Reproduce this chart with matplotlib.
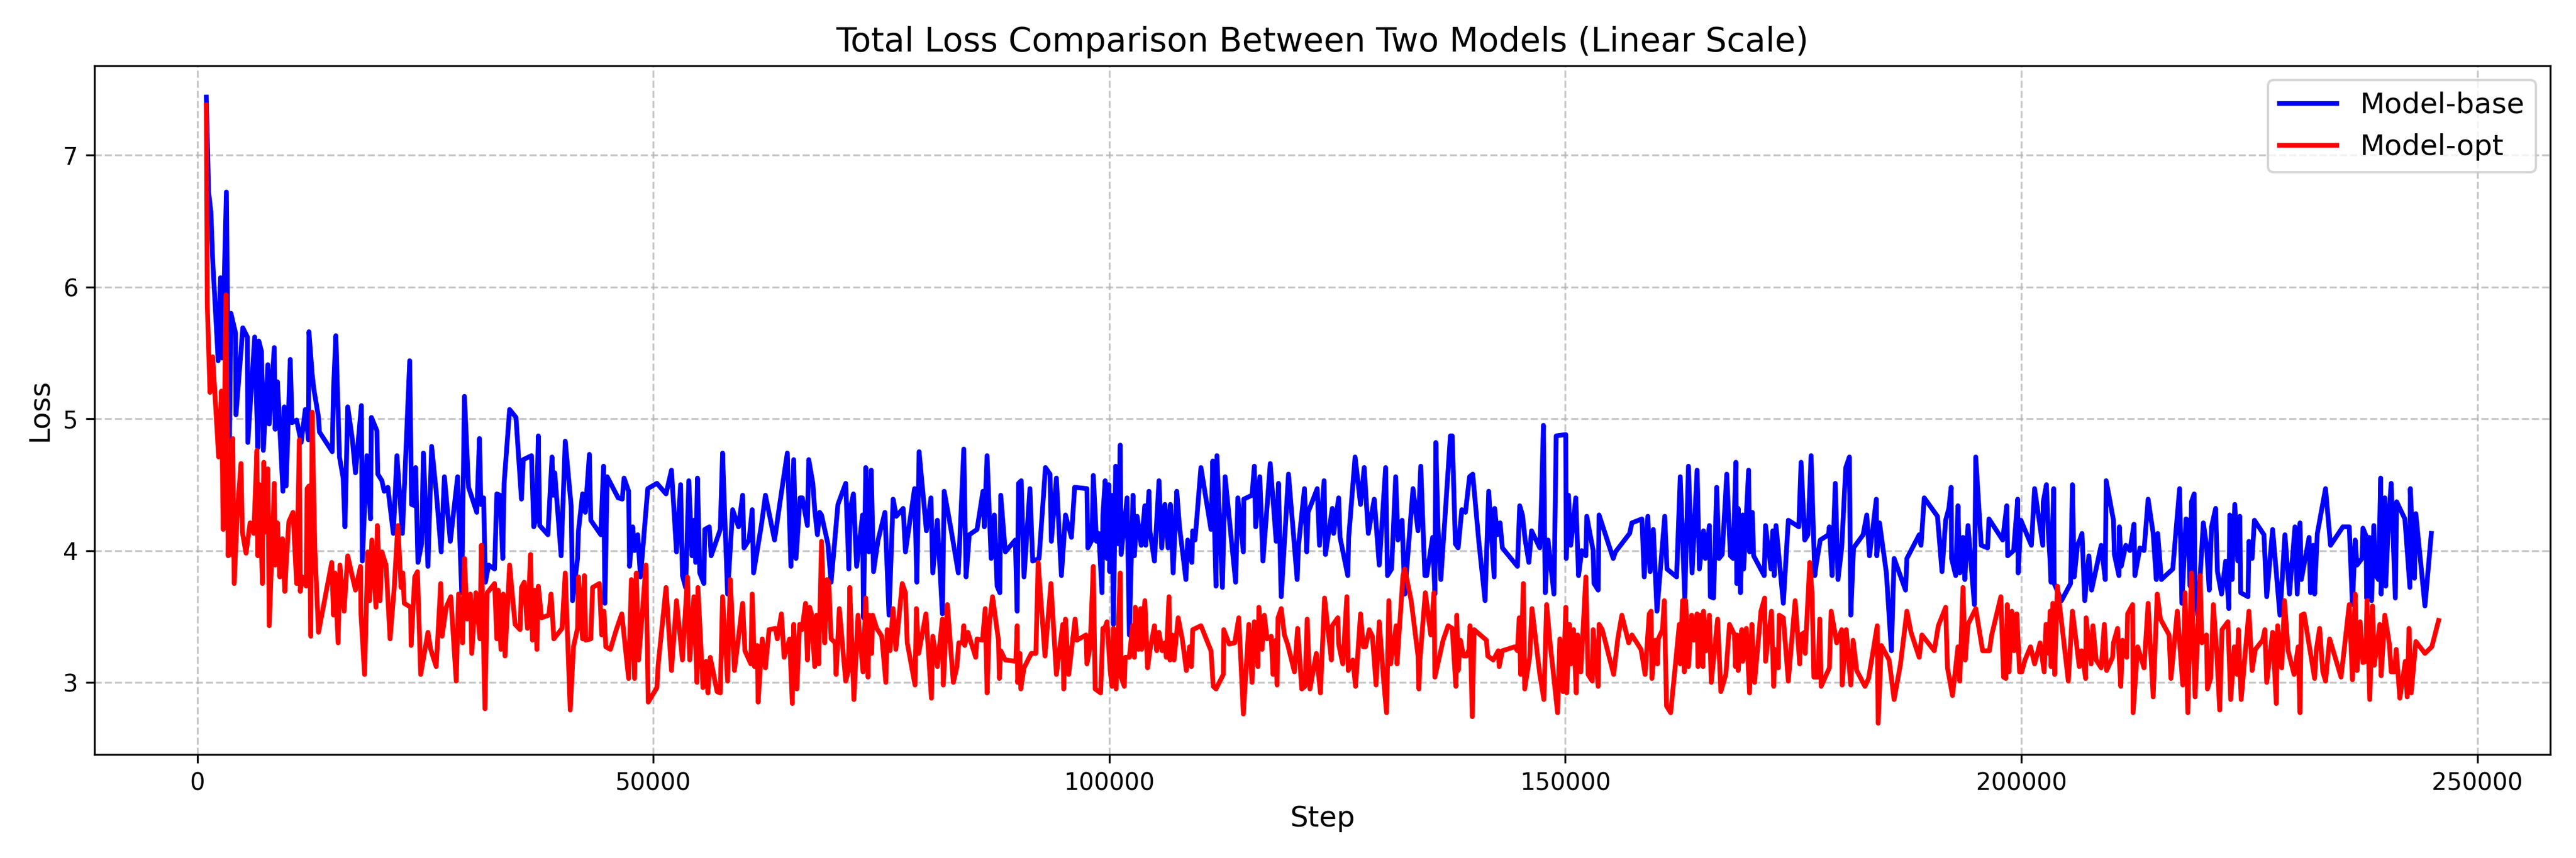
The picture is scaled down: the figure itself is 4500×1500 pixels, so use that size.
import matplotlib
matplotlib.use("Agg")
import matplotlib.pyplot as plt

# (step, loss) pairs
base_points = [
    (1000, 7.44), (1250, 6.72), (1500, 6.57), (1700, 6.20), (2300, 5.44), (2550, 6.07), (2750, 5.46),
    (3200, 6.72), (3500, 4.64), (3700, 5.80), (4200, 5.65), (4250, 5.03), (5000, 5.69), (5500, 5.62),
    (5550, 4.82), (6300, 5.62), (6650, 4.78), (6750, 5.59), (7050, 5.51), (7250, 4.76), (7750, 5.41),
    (7900, 4.96), (8450, 5.54), (8550, 4.92), (8800, 5.28), (9400, 4.45), (9550, 5.09), (9750, 4.49),
    (10200, 5.45), (10400, 4.97), (10900, 4.99), (11400, 4.82), (11850, 5.07), (12200, 4.84), (12250, 5.66),
    (12600, 5.34), (12800, 5.22), (13300, 5.01), (13400, 4.90), (14800, 4.75), (14950, 5.23), (15200, 5.63),
    (15600, 4.71), (16000, 4.55), (16200, 4.18), (16500, 5.09), (17000, 4.85), (17350, 4.59), (18000, 5.10),
    (18100, 3.92), (18600, 4.72), (19000, 4.24), (19100, 5.01), (19700, 4.91), (19800, 4.58), (20250, 4.53),
    (20500, 4.45), (20900, 4.48), (21500, 4.13), (21900, 4.72), (22500, 4.13), (23300, 5.44), (23500, 4.35),
    (23850, 4.34), (23950, 4.63), (24200, 3.91), (24600, 4.05), (24800, 4.74), (25300, 3.88), (25700, 4.79),
    (26200, 4.45), (26750, 3.99), (27100, 4.56), (27750, 4.07), (28550, 4.56), (29000, 3.68), (29300, 5.17),
    (29750, 4.48), (30650, 4.29), (30950, 4.85), (31100, 4.35), (31400, 4.40), (31600, 3.76), (31950, 3.89),
    (32600, 3.86), (32850, 4.43), (33200, 4.42), (33500, 3.94), (33650, 4.51), (34250, 5.07), (34950, 5.01),
    (35550, 4.39), (35750, 4.69), (36650, 4.72), (36900, 4.18), (37200, 4.26), (37400, 4.87), (37550, 4.19),
    (38450, 4.12), (38900, 4.71), (39050, 4.42), (39200, 4.59), (39900, 3.96), (40350, 4.83), (41000, 4.34),
    (41150, 3.62), (41700, 3.94), (41800, 4.15), (42250, 4.43), (42550, 4.29), (43000, 4.73), (43150, 4.23),
    (44250, 4.12), (44550, 4.64), (44700, 3.60), (44950, 4.56), (46150, 4.40), (46600, 4.39), (46800, 4.55),
    (47300, 4.45), (47400, 3.88), (47750, 4.18), (47950, 4.00), (48300, 4.12), (48600, 3.80), (49400, 4.47),
    (50400, 4.51), (51400, 4.43), (52000, 4.61), (52550, 3.99), (53000, 4.50), (53200, 3.81), (53550, 3.72),
    (53900, 4.53), (54250, 3.96), (54450, 4.23), (54650, 3.91), (54850, 4.55), (55100, 3.83), (55550, 3.75),
    (55650, 4.16), (56150, 4.18), (56350, 3.96), (57350, 4.16), (57600, 4.74), (57800, 4.34), (58150, 3.67),
    (58700, 4.31), (59350, 4.18), (59800, 4.42), (59950, 4.02), (60500, 4.08), (60850, 4.31), (61000, 3.83),
    (61850, 4.19), (62300, 4.42), (63300, 4.08), (64200, 4.51), (64700, 4.74), (65100, 3.88), (65400, 4.69),
    (65650, 3.94), (66100, 4.40), (66350, 4.40), (66900, 4.19), (67050, 4.69), (67500, 4.51), (67700, 4.31),
    (68000, 4.12), (68250, 4.29), (68450, 4.27), (69150, 4.05), (69500, 3.76), (70250, 4.35), (71100, 4.51),
    (71450, 3.86), (71600, 4.32), (71950, 4.43), (72300, 3.88), (72950, 4.27), (73050, 3.49), (73300, 4.63),
    (73650, 3.99), (73900, 4.61), (74150, 3.84), (74650, 4.08), (75400, 4.29), (75850, 3.51), (76300, 4.39),
    (76650, 4.26), (77400, 4.32), (77650, 3.99), (78650, 4.47), (78900, 3.76), (79150, 4.75), (79950, 4.15),
    (80450, 4.40), (80650, 3.83), (81150, 4.23), (81700, 3.52), (81900, 4.45), (82650, 4.16), (83450, 3.83),
    (84050, 4.77), (84300, 3.80), (84650, 4.12), (85500, 4.16), (86150, 4.45), (86300, 4.18), (86600, 4.72),
    (87050, 3.94), (87400, 4.27), (87700, 3.73), (88000, 3.68), (88100, 4.42), (88600, 3.99), (89700, 4.08),
    (89900, 3.54), (90050, 4.51), (90350, 4.53), (90650, 3.80), (91300, 4.47), (91600, 3.92), (92300, 3.94),
    (93000, 4.63), (93500, 4.58), (93650, 4.07), (94200, 4.55), (94750, 3.81), (95200, 4.27), (95850, 4.10),
    (96200, 4.48), (97550, 4.47), (97650, 4.02), (98100, 4.08), (98250, 4.57), (98600, 4.07), (98850, 4.13),
    (99200, 3.68), (99300, 4.27), (99550, 4.53), (99750, 3.94), (99950, 4.50), (100050, 3.84), (100300, 4.42),
    (100450, 3.44), (100700, 4.64), (101000, 4.05), (101200, 4.80), (101300, 3.97), (101950, 4.40), (102200, 3.36),
    (102600, 4.42), (102750, 3.96), (103050, 4.26), (103500, 4.04), (103900, 4.34), (104000, 4.04), (104350, 4.45),
    (104450, 4.15), (104950, 3.92), (105450, 4.53), (105750, 4.02), (106100, 4.35), (106450, 4.02), (106700, 4.35),
    (107000, 3.83), (107400, 4.45), (107700, 4.18), (108400, 3.78), (108600, 4.08), (109050, 3.91), (109150, 4.15),
    (109400, 4.08), (110050, 4.63), (111150, 4.16), (111350, 4.68), (111700, 3.73), (111800, 4.72), (112400, 3.72),
    (112700, 4.56), (113850, 3.76), (114100, 4.40), (114700, 3.99), (114750, 4.39), (115650, 4.42), (115900, 4.64),
    (116050, 4.18), (116500, 4.56), (116850, 3.92), (117650, 4.66), (118300, 4.07), (118550, 4.51), (118850, 3.65),
    (119650, 4.58), (120600, 3.78), (120750, 4.04), (121400, 4.47), (121650, 3.99), (121800, 4.29), (122800, 4.47),
    (123050, 4.04), (123550, 4.53), (123700, 3.97), (124450, 4.32), (124600, 4.13), (125150, 4.40), (125300, 4.10),
    (126150, 3.81), (126250, 4.10), (126950, 4.71), (127550, 4.35), (127950, 4.63), (128400, 4.13), (129050, 4.39),
    (129600, 3.89), (130300, 4.63), (130500, 3.81), (130950, 3.86), (131400, 4.56), (131650, 4.08), (132100, 4.23),
    (132400, 3.67), (133300, 4.47), (133850, 4.15), (134150, 4.64), (134600, 3.81), (134800, 3.81), (135450, 4.10),
    (135700, 3.67), (135800, 4.82), (136050, 4.16), (136350, 3.78), (137400, 4.87), (137600, 4.87), (137950, 4.05),
    (138250, 4.02), (138650, 4.31), (139050, 4.29), (139500, 4.56), (139850, 4.58), (140500, 4.08), (141200, 3.62),
    (141600, 4.45), (142200, 3.80), (142250, 4.32), (142550, 4.12), (142850, 4.21), (143100, 4.02), (144750, 3.88),
    (145000, 4.34), (145300, 4.27), (145600, 4.08), (146000, 3.91), (146300, 4.15), (147200, 4.02), (147350, 4.29),
    (147600, 4.95), (147800, 3.68), (148100, 4.08), (148750, 3.67), (149000, 4.87), (150050, 4.88), (150100, 3.94),
    (150350, 4.42), (150600, 4.04), (151150, 4.40), (151450, 3.81), (151800, 4.00), (152250, 3.96), (152350, 4.26),
    (153050, 4.00), (153150, 3.75), (153600, 3.70), (153700, 4.27), (155250, 3.94), (155500, 3.99), (157050, 4.13),
    (157300, 4.21), (158400, 4.24), (158650, 3.80), (159050, 4.26), (159300, 3.84), (159650, 4.16), (160050, 3.54),
    (160900, 4.26), (161150, 3.86), (162200, 3.80), (162600, 4.56), (163100, 3.64), (163500, 4.64), (163900, 3.83),
    (164450, 4.61), (164700, 3.86), (165150, 4.15), (165350, 3.94), (165800, 4.19), (165900, 3.65), (166250, 3.64),
    (166600, 4.48), (166850, 3.94), (167200, 3.97), (167700, 4.58), (168100, 3.96), (168400, 3.94), (168700, 4.67),
    (168800, 3.75), (168950, 4.32), (169200, 3.68), (169450, 4.27), (169550, 3.86), (170100, 4.61), (170200, 3.99),
    (170500, 4.29), (170650, 3.96), (171800, 3.81), (171950, 4.19), (172550, 3.86), (172750, 4.15), (172900, 3.81),
    (173100, 4.19), (173900, 3.60), (174450, 4.23), (175600, 4.18), (175850, 4.67), (176250, 4.08), (176600, 4.12),
    (176950, 4.72), (177350, 3.81), (177500, 3.89), (177950, 4.08), (178850, 4.12), (178950, 4.18), (179250, 3.81),
    (179600, 4.51), (179900, 3.78), (180300, 4.02), (180750, 4.63), (181150, 4.71), (181300, 3.51), (181600, 4.02),
    (182650, 4.12), (183050, 4.27), (183350, 3.96), (184100, 4.39), (184150, 3.96), (184450, 4.21), (185200, 3.83),
    (185750, 3.24), (186050, 3.94), (187300, 3.70), (187450, 3.94), (188800, 4.12), (189000, 4.04), (189350, 4.40),
    (190800, 4.26), (191300, 3.84), (191700, 4.23), (192050, 4.32), (192300, 4.48), (192350, 3.94), (192800, 3.81),
    (193050, 4.34), (193250, 3.83), (193600, 4.10), (193800, 3.78), (194150, 4.19), (194850, 3.59), (195000, 4.71),
    (195600, 4.04), (196300, 4.02), (196450, 4.24), (197950, 4.08), (198400, 4.34), (198500, 3.96), (199150, 4.00),
    (199600, 4.39), (199650, 3.83), (199950, 4.23), (201100, 4.04), (201450, 4.47), (202350, 4.04), (202400, 4.37),
    (202750, 4.50), (202950, 4.15), (203150, 3.92), (203250, 3.76), (203550, 4.47), (203600, 3.75), (204400, 3.62),
    (205400, 3.75), (205600, 4.50), (205800, 3.80), (206150, 4.04), (206400, 4.08), (206650, 4.13), (206950, 3.62),
    (207400, 3.96), (207700, 3.70), (208750, 4.04), (209200, 3.78), (209300, 4.53), (210100, 4.23), (210200, 3.97),
    (210700, 3.81), (210750, 4.18), (210950, 3.88), (211450, 4.04), (211900, 4.00), (212350, 4.20), (212450, 3.81),
    (213000, 4.02), (213450, 4.00), (213900, 4.39), (214450, 4.13), (214800, 3.78), (214950, 4.13), (215350, 3.78),
    (216600, 3.86), (217350, 4.47), (217600, 3.60), (218050, 4.24), (218250, 4.23), (218500, 3.73), (218650, 4.37),
    (218950, 4.43), (219050, 3.66), (219350, 3.51), (219950, 4.21), (220300, 4.04), (220600, 3.70), (220850, 4.18),
    (221300, 4.32), (221500, 3.84), (221950, 3.67), (222400, 3.92), (222750, 3.56), (222850, 4.27), (223100, 3.78),
    (223400, 4.35), (223750, 3.92), (223950, 4.26), (224050, 3.68), (224850, 3.65), (224950, 4.07), (225300, 3.94),
    (225550, 4.23), (226600, 4.12), (226900, 3.65), (227550, 4.16), (228350, 3.51), (228900, 4.12), (229400, 3.67),
    (230000, 4.18), (230250, 3.67), (230550, 4.21), (230700, 3.78), (231550, 4.10), (231700, 3.68), (232000, 4.04),
    (232150, 3.67), (232450, 4.13), (233350, 4.47), (233900, 4.04), (235250, 4.18), (235950, 4.18), (236300, 3.59),
    (236600, 4.08), (236800, 3.89), (237350, 3.94), (237450, 4.17), (237800, 4.11), (237850, 3.64), (238150, 4.10),
    (238400, 3.62), (238650, 4.19), (238800, 3.82), (239150, 3.78), (239400, 4.55), (239450, 3.67), (239850, 4.40),
    (239950, 3.73), (240250, 4.22), (240550, 4.51), (241000, 3.64), (241150, 4.37), (242050, 4.24), (242600, 3.72),
    (242650, 4.47), (243100, 3.79), (243250, 4.28), (244250, 3.58), (244950, 4.13),
]

opt_points = [
    (1000, 7.38), (1100, 5.87), (1400, 5.20), (1700, 5.47), (2350, 4.71), (2650, 5.21), (2850, 4.16),
    (3150, 5.94), (3400, 3.96), (3600, 4.63), (3700, 3.97), (3900, 4.85), (4050, 3.75), (4400, 4.29),
    (4800, 4.66), (4950, 4.14), (5350, 3.98), (5800, 4.21), (6050, 4.20), (6200, 4.13), (6550, 4.76),
    (6650, 3.96), (6850, 4.50), (7150, 3.75), (7300, 4.67), (7450, 4.14), (7750, 4.62), (7900, 3.43),
    (8450, 4.51), (8550, 3.89), (8800, 4.21), (9050, 3.80), (9350, 4.09), (9600, 3.69), (9750, 3.89),
    (10050, 4.22), (10500, 4.29), (10900, 3.75), (11200, 4.84), (11300, 3.69), (11550, 3.80), (11950, 3.73),
    (12050, 4.47), (12250, 4.49), (12450, 3.35), (12600, 5.05), (12900, 4.01), (13300, 3.38), (14750, 3.91),
    (14950, 3.51), (15100, 3.83), (15450, 3.30), (15650, 3.89), (16100, 3.54), (16500, 3.96), (17350, 3.70),
    (17900, 3.88), (17950, 3.52), (18350, 3.06), (18700, 3.99), (18900, 3.62), (19150, 4.08), (19600, 3.57),
    (19750, 4.19), (20050, 3.62), (20250, 3.99), (20700, 3.89), (21150, 3.33), (21600, 3.72), (22000, 4.19),
    (22350, 3.72), (22550, 3.83), (22700, 3.60), (23400, 3.57), (23450, 3.28), (23850, 3.80), (24150, 3.84),
    (24500, 3.06), (25300, 3.38), (25600, 3.25), (26200, 3.12), (26700, 3.75), (26850, 3.35), (27300, 3.57),
    (27800, 3.65), (28400, 3.01), (28650, 3.67), (29100, 3.30), (29300, 3.94), (29600, 3.48), (29950, 3.67),
    (30100, 3.22), (30550, 3.68), (31000, 3.33), (31150, 4.04), (31550, 2.80), (31800, 3.68), (32600, 3.75),
    (32850, 3.33), (33000, 3.70), (33300, 3.25), (33550, 3.67), (33750, 3.20), (34250, 3.89), (34850, 3.44),
    (35400, 3.40), (35550, 3.72), (35850, 3.76), (36200, 3.41), (36550, 3.97), (36750, 3.32), (37000, 3.70),
    (37250, 3.25), (37400, 3.73), (37750, 3.49), (38550, 3.51), (38800, 3.67), (39100, 3.33), (40000, 3.41),
    (40350, 3.83), (40900, 2.79), (41250, 3.27), (41700, 3.41), (41800, 3.80), (42250, 3.33), (42450, 3.81),
    (42600, 3.32), (43150, 3.33), (43350, 3.72), (44100, 3.75), (44350, 3.36), (44600, 3.54), (44800, 3.27),
    (45300, 3.25), (45950, 3.40), (46550, 3.52), (47300, 3.03), (47600, 3.78), (47950, 3.03), (48150, 3.83),
    (48400, 3.17), (49200, 3.89), (49450, 2.85), (50400, 2.96), (50550, 3.14), (51400, 3.72), (52000, 3.09),
    (52550, 3.62), (53200, 3.17), (53750, 3.80), (54000, 3.17), (54450, 3.65), (54800, 3.00), (54900, 3.72),
    (55450, 2.96), (55800, 3.16), (56000, 2.92), (56250, 3.19), (57000, 2.93), (57350, 2.92), (57600, 3.65),
    (58150, 3.01), (58450, 3.78), (58900, 3.09), (59800, 3.60), (60050, 3.24), (60700, 3.14), (60850, 3.67),
    (61100, 3.12), (61400, 3.28), (61500, 2.85), (61950, 3.33), (62300, 3.11), (62700, 3.40), (63400, 3.41),
    (63600, 3.33), (64050, 3.52), (64350, 3.19), (64950, 3.33), (65250, 2.84), (65400, 3.44), (65750, 2.95),
    (66050, 3.44), (66300, 3.40), (66700, 3.60), (66900, 3.17), (67150, 3.57), (67350, 3.52), (67700, 3.12),
    (67900, 3.51), (68150, 3.14), (68450, 4.07), (68800, 3.30), (69050, 3.78), (69250, 3.76), (69500, 3.33),
    (69950, 3.30), (70050, 3.06), (70400, 3.56), (71100, 3.01), (71400, 3.09), (71550, 3.72), (72000, 2.87),
    (72450, 3.51), (73000, 3.08), (73300, 3.64), (73550, 3.04), (73700, 3.51), (73950, 3.22), (74050, 3.51),
    (74500, 3.41), (75050, 3.35), (75500, 3.00), (75650, 3.40), (75950, 3.24), (76300, 3.56), (76600, 3.25),
    (77300, 3.75), (77650, 3.68), (77850, 3.30), (78700, 2.98), (78850, 3.56), (79100, 3.22), (79900, 3.52),
    (80500, 2.88), (80650, 3.35), (81150, 3.12), (81700, 3.48), (81800, 2.98), (82250, 3.59), (82900, 3.00),
    (83300, 3.12), (83500, 3.30), (83900, 3.30), (84050, 3.43), (84150, 3.28), (84500, 3.38), (85350, 3.19),
    (85500, 3.33), (86100, 3.32), (86400, 3.56), (86600, 2.92), (86850, 3.44), (87200, 3.65), (87850, 3.32),
    (87950, 3.03), (88100, 3.24), (88600, 3.17), (89750, 3.16), (89900, 3.43), (89950, 3.00), (90200, 3.22),
    (90300, 2.95), (90650, 3.11), (91450, 3.22), (91950, 3.22), (92200, 3.91), (92950, 3.20), (93600, 3.75),
    (94200, 3.06), (94900, 3.44), (95000, 2.95), (95200, 3.48), (95550, 3.06), (96250, 3.48), (96450, 3.32),
    (97450, 3.36), (97550, 3.14), (97900, 3.27), (98250, 3.88), (98450, 2.95), (99050, 2.92), (99300, 3.41),
    (99450, 3.40), (99750, 3.46), (100100, 3.09), (100300, 2.97), (100450, 3.41), (100750, 2.95), (101200, 3.83),
    (101300, 3.04), (101650, 2.97), (101750, 3.19), (102200, 3.19), (102550, 3.43), (102750, 3.19), (102850, 3.57),
    (103200, 3.25), (103450, 3.56), (103550, 3.25), (103900, 3.62), (104200, 3.11), (104450, 3.24), (104950, 3.43),
    (105200, 3.24), (105450, 3.38), (105800, 3.24), (106100, 3.30), (106250, 3.19), (106550, 3.65), (106650, 3.17),
    (106900, 3.36), (107100, 3.17), (107550, 3.49), (108000, 3.33), (108450, 3.09), (108800, 3.27), (109000, 3.12),
    (109150, 3.40), (110050, 3.43), (111150, 3.24), (111400, 2.97), (111700, 2.95), (112500, 3.06), (112550, 3.40),
    (113150, 3.29), (113750, 3.30), (114200, 3.49), (114700, 2.76), (115300, 3.44), (115650, 3.00), (115900, 3.46),
    (116300, 3.12), (116400, 3.57), (116750, 3.25), (117000, 3.51), (117300, 3.33), (117750, 3.35), (117950, 3.06),
    (118250, 3.32), (118400, 2.98), (118500, 3.49), (118850, 3.56), (119200, 3.36), (119550, 3.29), (120300, 3.08),
    (120650, 3.41), (121100, 2.95), (121450, 2.97), (121700, 3.48), (122000, 2.95), (122700, 3.22), (123150, 2.92),
    (123600, 3.64), (124350, 3.17), (124450, 3.43), (125050, 3.49), (125150, 3.29), (125600, 3.14), (126050, 3.65),
    (126200, 3.09), (126700, 3.17), (127000, 2.97), (127550, 3.52), (127850, 3.27), (128100, 3.27), (128500, 3.40),
    (128850, 3.35), (129250, 2.98), (129600, 3.46), (130050, 3.04), (130400, 2.77), (130650, 3.62), (130850, 3.14),
    (131450, 3.43), (131550, 3.14), (132200, 3.81), (132400, 3.86), (133100, 3.62), (133850, 3.20), (133950, 2.95),
    (134050, 3.16), (134650, 3.68), (135250, 3.36), (135600, 3.68), (135700, 3.04), (136600, 3.32), (137150, 3.43),
    (137600, 3.41), (138000, 2.97), (138100, 3.51), (138250, 3.09), (138500, 3.32), (138850, 3.20), (139150, 3.20),
    (139450, 3.25), (139550, 3.43), (139800, 2.74), (140000, 3.40), (141350, 3.32), (141500, 3.20), (142100, 3.17),
    (142650, 3.24), (142750, 3.12), (143100, 3.24), (144450, 3.27), (144750, 3.24), (144950, 3.49), (145100, 3.06),
    (145400, 3.75), (145550, 2.95), (146100, 3.20), (146350, 3.56), (147200, 3.06), (147650, 2.87), (147950, 3.59),
    (148300, 3.32), (149150, 2.77), (149400, 3.33), (149750, 2.93), (150050, 3.57), (150150, 2.92), (150450, 3.44),
    (150600, 3.14), (150900, 3.40), (151200, 2.92), (151350, 3.36), (151700, 3.08), (152250, 3.80), (152500, 3.06),
    (152950, 3.01), (153050, 3.40), (153600, 2.97), (153700, 3.44), (154050, 3.40), (155300, 3.06), (155750, 3.33),
    (156200, 3.51), (156950, 3.30), (157300, 3.36), (158300, 3.25), (158750, 3.06), (159200, 3.52), (159400, 3.54),
    (159500, 3.03), (159850, 3.32), (160100, 3.14), (160200, 3.33), (160650, 3.40), (160850, 3.62), (161100, 2.82),
    (161550, 2.77), (162100, 3.16), (162500, 3.44), (162600, 3.14), (162850, 3.62), (163050, 3.08), (163200, 3.62),
    (163500, 3.12), (163850, 3.51), (164100, 3.32), (164450, 3.52), (164550, 3.12), (164800, 3.51), (165100, 3.12),
    (165150, 3.54), (165450, 3.24), (165800, 3.51), (166000, 3.00), (166700, 3.48), (167050, 2.93), (167600, 3.06),
    (168000, 3.44), (168550, 3.36), (168650, 3.12), (168850, 3.36), (168950, 3.09), (169350, 3.40), (169450, 3.16),
    (169850, 3.41), (170200, 2.92), (170450, 3.44), (170750, 3.00), (171450, 3.54), (171850, 3.64), (171950, 3.16),
    (172600, 3.54), (172850, 2.97), (173000, 3.25), (173350, 3.11), (173450, 3.51), (173900, 3.49), (174450, 3.01),
    (175200, 3.62), (175700, 3.14), (175800, 3.36), (176250, 3.38), (176300, 3.22), (176800, 3.91), (177050, 3.68),
    (177250, 3.04), (177700, 3.04), (177900, 3.48), (178050, 2.97), (178950, 3.11), (179150, 3.54), (179750, 3.30),
    (180300, 3.40), (180350, 2.98), (180800, 3.40), (181300, 2.98), (181550, 3.32), (181950, 3.09), (182850, 2.97),
    (183250, 3.03), (184200, 3.43), (184300, 2.69), (184650, 3.28), (185500, 3.17), (186050, 2.87), (186750, 3.14),
    (187450, 3.54), (187900, 3.38), (188800, 3.19), (189100, 3.36), (190450, 3.24), (190900, 3.43), (191700, 3.57),
    (191900, 3.11), (192450, 2.90), (193050, 3.27), (193250, 3.01), (193600, 3.72), (193850, 3.17), (194150, 3.44),
    (195000, 3.56), (195750, 3.24), (196500, 3.24), (196750, 3.36), (197750, 3.65), (198050, 3.04), (198300, 3.03),
    (198450, 3.59), (198650, 3.08), (198950, 3.54), (199200, 3.24), (199500, 3.52), (199800, 3.08), (200050, 3.08),
    (200400, 3.17), (201000, 3.27), (201450, 3.14), (202050, 3.30), (202500, 3.08), (202700, 3.44), (203000, 3.22),
    (203150, 3.54), (203250, 3.12), (203450, 3.60), (203650, 3.06), (203950, 3.73), (205150, 3.01), (205600, 3.54),
    (206350, 3.12), (206600, 3.24), (207050, 3.03), (207100, 3.49), (207650, 3.14), (207850, 3.43), (208200, 3.17),
    (208750, 3.11), (209100, 3.44), (209350, 3.09), (210000, 3.19), (210100, 3.30), (210550, 3.41), (210900, 2.97),
    (211100, 3.32), (211550, 3.19), (211650, 3.52), (212200, 3.59), (212250, 2.77), (212750, 3.27), (213450, 3.11),
    (213900, 3.60), (214450, 2.89), (214900, 3.67), (215250, 3.48), (216200, 3.36), (216400, 3.03), (217100, 3.54),
    (217700, 2.98), (217950, 3.68), (218250, 2.77), (218650, 3.83), (219050, 2.89), (219600, 3.81), (219800, 3.30),
    (220300, 3.36), (220400, 2.95), (220750, 3.03), (221050, 3.59), (221400, 3.25), (221750, 2.79), (222000, 3.40),
    (222650, 3.46), (222950, 2.87), (223350, 3.27), (223650, 3.06), (223800, 3.40), (224100, 2.87), (224950, 3.54),
    (225300, 3.09), (225650, 3.25), (226450, 3.32), (226700, 3.40), (226900, 3.00), (227550, 3.38), (227950, 2.84),
    (228100, 3.43), (228550, 3.11), (228850, 3.62), (229250, 3.24), (229900, 3.06), (230350, 3.27), (230550, 2.77),
    (230700, 3.51), (231000, 3.52), (231700, 3.22), (232150, 3.03), (232350, 3.25), (232700, 3.41), (233050, 3.08),
    (233350, 3.01), (233800, 3.33), (235050, 3.04), (235950, 3.59), (236300, 3.02), (236600, 3.67), (236800, 3.09),
    (237150, 3.46), (237450, 3.15), (237750, 3.16), (237900, 3.62), (238200, 2.87), (238500, 3.58), (238700, 3.13),
    (239300, 3.44), (239450, 3.05), (239850, 3.51), (240350, 3.29), (240550, 3.08), (240900, 3.08), (241100, 3.25),
    (241500, 2.88), (242100, 3.16), (242300, 2.89), (242500, 3.41), (242750, 2.92), (243250, 3.31), (244250, 3.22),
    (245000, 3.27), (245750, 3.47),
]

base_steps = [p[0] for p in base_points]
base_loss = [p[1] for p in base_points]
opt_steps = [p[0] for p in opt_points]
opt_loss = [p[1] for p in opt_points]

plt.figure(figsize=(15, 5), dpi=300)
plt.plot(base_steps, base_loss, color='blue', linewidth=2, label='Model-base')
plt.plot(opt_steps, opt_loss, color='red', linewidth=2, label='Model-opt')
plt.title('Total Loss Comparison Between Two Models (Linear Scale)', fontsize=14)
plt.xlabel('Step', fontsize=12)
plt.ylabel('Loss', fontsize=12)
plt.legend(fontsize=12)
plt.grid(True, linestyle='--', alpha=0.7)
plt.tight_layout()
plt.savefig('out.png')
